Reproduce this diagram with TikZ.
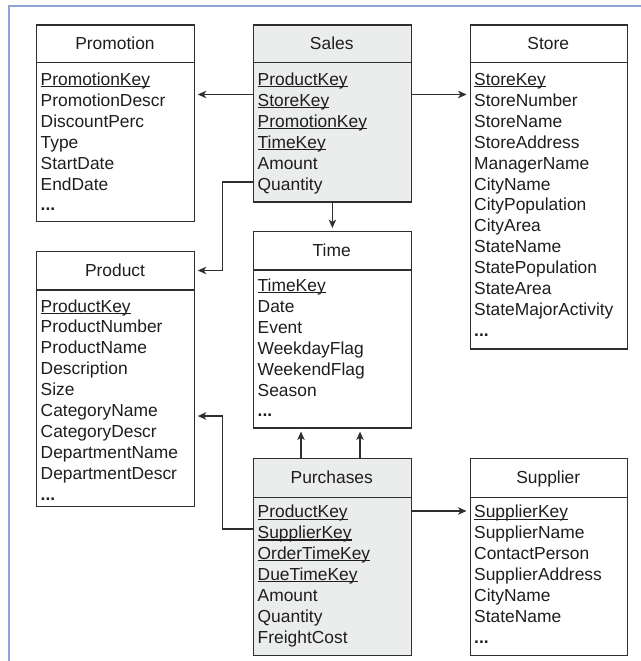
\documentclass[tikz,border=0pt]{standalone}
\usepackage{fontspec}
\setmainfont{Liberation Sans}
\usetikzlibrary{arrows.meta,calc}
\definecolor{ink}{HTML}{1E1E1E}
\definecolor{edge}{HTML}{2E2E2E}
\definecolor{factfill}{HTML}{EBECEC}
\definecolor{frameblue}{HTML}{8CA6DA}
% underlined key attribute
\newcommand\keyu[1]{\sbox0{#1}\rlap{\usebox0}\rule[-1.9pt]{\wd0}{1.1pt}}
\newcommand\more{\textbf{...}}
\begin{document}
\begin{tikzpicture}[x=1pt,y=-1pt,
  font=\fontsize{17.4}{20}\selectfont, text=ink,
  tbl/.style={draw=edge, line width=1.3pt, fill=white, anchor=north west,
    minimum width=157.5pt, inner sep=0pt},
  fact/.style={tbl, fill=factfill},
  ttl/.style={inner sep=0pt, anchor=base},
  row/.style={inner sep=0pt, anchor=base west, text height=13pt, text depth=0pt},
  sep/.style={draw=edge, line width=1.3pt},
  arr/.style={draw=edge, line width=1.2pt,
    -{Stealth[length=8.5pt,width=7.5pt,inset=2.5pt]}, shorten >=3pt}]
\useasboundingbox (0,0) rectangle (640,661);
\draw[frameblue, line width=1.2pt] (9,670) -- (9,6) -- (650,6);

% ---- Promotion
\node[tbl, minimum height=196.2pt] (promo) at (36,24.5) {};
\draw[sep] (promo.west |- 0,62.7) -- (promo.east |- 0,62.7);
\node[ttl] (promo-t) at (115,49.5) {Promotion};
\foreach \t [count=\i] in {\keyu{PromotionKey},PromotionDescr,DiscountPerc,Type,StartDate,EndDate,\more}
  \node[row] (promo-\i) at (40.5,{85.5+(\i-1)*20.9}) {\t};

% ---- Sales
\node[fact, minimum height=176.8pt] (sales) at (253,24.5) {};
\draw[sep] (sales.west |- 0,62.7) -- (sales.east |- 0,62.7);
\node[ttl] (sales-t) at (331.75,49.5) {Sales};
\foreach \t [count=\i] in {\keyu{ProductKey},\keyu{StoreKey},\keyu{PromotionKey},\keyu{TimeKey},Amount,Quantity}
  \node[row] (sales-\i) at (257.5,{85.5+(\i-1)*20.9}) {\t};

% ---- Store
\node[tbl, minimum height=323.8pt] (store) at (469.5,24.5) {};
\draw[sep] (store.west |- 0,62.7) -- (store.east |- 0,62.7);
\node[ttl] (store-t) at (548.25,49.5) {Store};
\foreach \t [count=\i] in {\keyu{StoreKey},StoreNumber,StoreName,StoreAddress,ManagerName,CityName,CityPopulation,CityArea,StateName,StatePopulation,StateArea,StateMajorActivity,\more}
  \node[row] (store-\i) at (474,{85.5+(\i-1)*20.9}) {\t};

% ---- Time
\node[tbl, minimum height=196.3pt] (time) at (253,231) {};
\draw[sep] (time.west |- 0,270) -- (time.east |- 0,270);
\node[ttl] (time-t) at (331.75,256) {Time};
\foreach \t [count=\i] in {\keyu{TimeKey},Date,Event,WeekdayFlag,WeekendFlag,Season,\more}
  \node[row] (time-\i) at (257.5,{291.5+(\i-1)*20.9}) {\t};

% ---- Product
\node[tbl, minimum height=255pt] (product) at (36,251) {};
\draw[sep] (product.west |- 0,290) -- (product.east |- 0,290);
\node[ttl] (product-t) at (115,276) {Product};
\foreach \t [count=\i] in {\keyu{ProductKey},ProductNumber,ProductName,Description,Size,CategoryName,CategoryDescr,DepartmentName,DepartmentDescr,\more}
  \node[row] (product-\i) at (40.5,{312+(\i-1)*20.9}) {\t};

% ---- Purchases
\node[fact, minimum height=197.3pt] (purch) at (253,457.7) {};
\draw[sep] (purch.west |- 0,497.7) -- (purch.east |- 0,497.7);
\node[ttl] (purch-t) at (331.75,483) {Purchases};
\foreach \t [count=\i] in {\keyu{ProductKey},\keyu{SupplierKey},\keyu{OrderTimeKey},\keyu{DueTimeKey},Amount,Quantity,FreightCost}
  \node[row] (purch-\i) at (257.5,{517.7+(\i-1)*20.9}) {\t};

% ---- Supplier
\node[tbl, minimum height=197.3pt] (supp) at (469.5,457.7) {};
\draw[sep] (supp.west |- 0,497.7) -- (supp.east |- 0,497.7);
\node[ttl] (supp-t) at (548.25,483) {Supplier};
\foreach \t [count=\i] in {\keyu{SupplierKey},SupplierName,ContactPerson,SupplierAddress,CityName,StateName,\more}
  \node[row] (supp-\i) at (474,{517.7+(\i-1)*20.9}) {\t};

% ---- references
\draw[arr] (sales.west |- 0,94.5) -- (promo.east |- 0,94.5);
\draw[arr] (sales.east |- 0,94.5) -- (store.west |- 0,94.5);
\draw[arr] (sales.south) -- (time.north);
\draw[arr] (sales.west |- 0,182) -- (222.5,182) |- (product.east |- 0,270.5);
\draw[arr] (purch.west |- 0,529) -- (222.5,529) |- (product.east |- 0,416);
\draw[arr] (purch.north -| 301,0) -- (time.south -| 301,0);
\draw[arr] (purch.north -| 360,0) -- (time.south -| 360,0);
\draw[arr] (purch.east |- 0,511) -- (supp.west |- 0,511);
\end{tikzpicture}
\end{document}
